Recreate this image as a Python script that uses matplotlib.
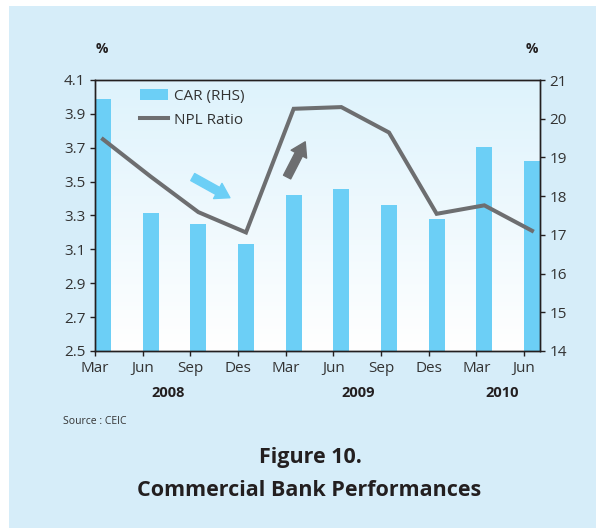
import numpy as np
import matplotlib
matplotlib.use("Agg")
import matplotlib.pyplot as plt
from matplotlib.patches import Rectangle, Patch
from matplotlib.lines import Line2D
import matplotlib.transforms as mtransforms

plt.rcParams['font.family'] = ['Open Sans', 'DejaVu Sans']

# Quarterly data
months = ["Mar", "Jun", "Sep", "Des", "Mar", "Jun", "Sep", "Des", "Mar", "Jun"]
years = ["2008", "2009", "2010"]
year_pos = [1.53, 5.51, 8.55]
car = [20.51, 17.56, 17.28, 16.76, 18.03, 18.18, 17.77, 17.41, 19.27, 18.91]
npl = [3.75, 3.53, 3.32, 3.20, 3.93, 3.94, 3.79, 3.31, 3.36, 3.21]

BG = "#d6edf9"
BAR = "#6ccff6"
LINE = "#6d6e70"
TXT = "#231f20"
LBL = "#333333"
FS = 11

W, H = 596, 528
fig = plt.figure(figsize=(W / 100, H / 100), dpi=100)
fig.patch.set_facecolor("white")
fig.patches.append(Rectangle((9 / W, 0), 1, (H - 6) / H, transform=fig.transFigure,
                             facecolor=BG, edgecolor="none", zorder=-10))

left, right, top, bottom = 95, 540, 80, 351
ax2 = fig.add_axes([left / W, 1 - bottom / H, (right - left) / W, (bottom - top) / H])
ax = ax2.twinx()
ax.yaxis.tick_left()
ax.yaxis.set_label_position("left")
ax2.yaxis.tick_right()
ax.set_zorder(ax2.get_zorder() + 1)
ax.patch.set_visible(False)
ax2.patch.set_visible(False)

# Soft vertical gradient behind the plot
grad = np.linspace(0, 1, 256).reshape(-1, 1)
c_top = np.array([0.87, 0.952, 0.99])
c_bot = np.array([1.0, 1.0, 1.0])
img = c_bot + (c_top - c_bot) * grad[:, :, None] * np.ones((1, 2, 1))
ax2.imshow(img, extent=[0, 1, 0, 1], transform=ax2.transAxes, origin="lower",
           aspect="auto", zorder=0)

x = np.arange(len(months))
bw = 0.335
ax2.bar(x, car, width=bw, align="edge", color=BAR, zorder=2)
ax.plot(x + bw / 2, npl, color=LINE, lw=2.9, solid_joinstyle="miter", zorder=3)

ax.set_xlim(0, 9 + bw)
ax2.set_xlim(0, 9 + bw)
ax.set_ylim(2.5, 4.1)
ax2.set_ylim(14, 21)
yt = np.arange(2.5, 4.11, 0.2)
ax.set_yticks(yt)
ax.set_yticklabels([f"{v:.1f}" for v in yt])
ax2.set_yticks(range(14, 22))
ax2.set_xticks(x)
ax2.set_xticklabels(months)
ax.tick_params(axis="x", bottom=False, labelbottom=False)

for a in (ax, ax2):
    for s in a.spines.values():
        s.set_color(TXT)
        s.set_linewidth(1.0)
ax.tick_params(axis="y", direction="out", length=3.5, width=1, pad=3.5,
               labelsize=FS, labelcolor=LBL, color=TXT)
ax2.tick_params(axis="y", direction="out", length=3.5, width=1, pad=3.5,
                labelsize=FS, labelcolor=LBL, color=TXT)
ax2.tick_params(axis="x", direction="out", length=3.5, width=1, pad=3.5,
                labelsize=FS, labelcolor=LBL, color=TXT)

# Year labels under the months
tr = mtransforms.blended_transform_factory(ax2.transData, fig.transFigure)
for yp, yr in zip(year_pos, years):
    fig.text(yp, 1 - 393 / H, yr, transform=tr, ha="center", va="center",
             fontsize=10.5, fontweight="bold", color=TXT)

# Unit labels
fig.text(102 / W, 1 - 49 / H, "%", ha="center", va="center", fontsize=10,
         fontweight="bold", color=TXT)
fig.text(532 / W, 1 - 49 / H, "%", ha="center", va="center", fontsize=10,
         fontweight="bold", color=TXT)

# Trend arrows
astyle = "simple,head_width=12.5,head_length=10,tail_width=5.8"
ax.annotate("", xy=(2.83, 3.405), xytext=(2.05, 3.527),
            arrowprops=dict(arrowstyle=astyle, mutation_scale=1, color=BAR,
                            shrinkA=0, shrinkB=0), zorder=4)
ax.annotate("", xy=(4.41, 3.735), xytext=(4.03, 3.527),
            arrowprops=dict(arrowstyle=astyle, mutation_scale=1, color=LINE,
                            shrinkA=0, shrinkB=0), zorder=4)

handles = [Patch(facecolor=BAR, edgecolor="none", label="CAR (RHS)"),
           Line2D([], [], color=LINE, lw=2.9, label="NPL Ratio")]
leg = ax.legend(handles=handles, loc="upper left", bbox_to_anchor=(0.101, 0.968),
                frameon=False, fontsize=FS, borderpad=0, handlelength=1.85,
                handletextpad=0.35, labelspacing=0.6, borderaxespad=0)
for t in leg.get_texts():
    t.set_color(LBL)

fig.text(63 / W, 1 - 421 / H, "Source : CEIC", ha="left", va="center",
         fontsize=7.5, color=LBL)
fig.text(310 / W, 1 - 458 / H, "Figure 10.", ha="center", va="center",
         fontsize=15.5, fontweight="bold", color=TXT)
fig.text(309 / W, 1 - 490 / H, "Commercial Bank Performances", ha="center",
         va="center", fontsize=15.5, fontweight="bold", color=TXT)

fig.savefig("out.png", dpi=100)
